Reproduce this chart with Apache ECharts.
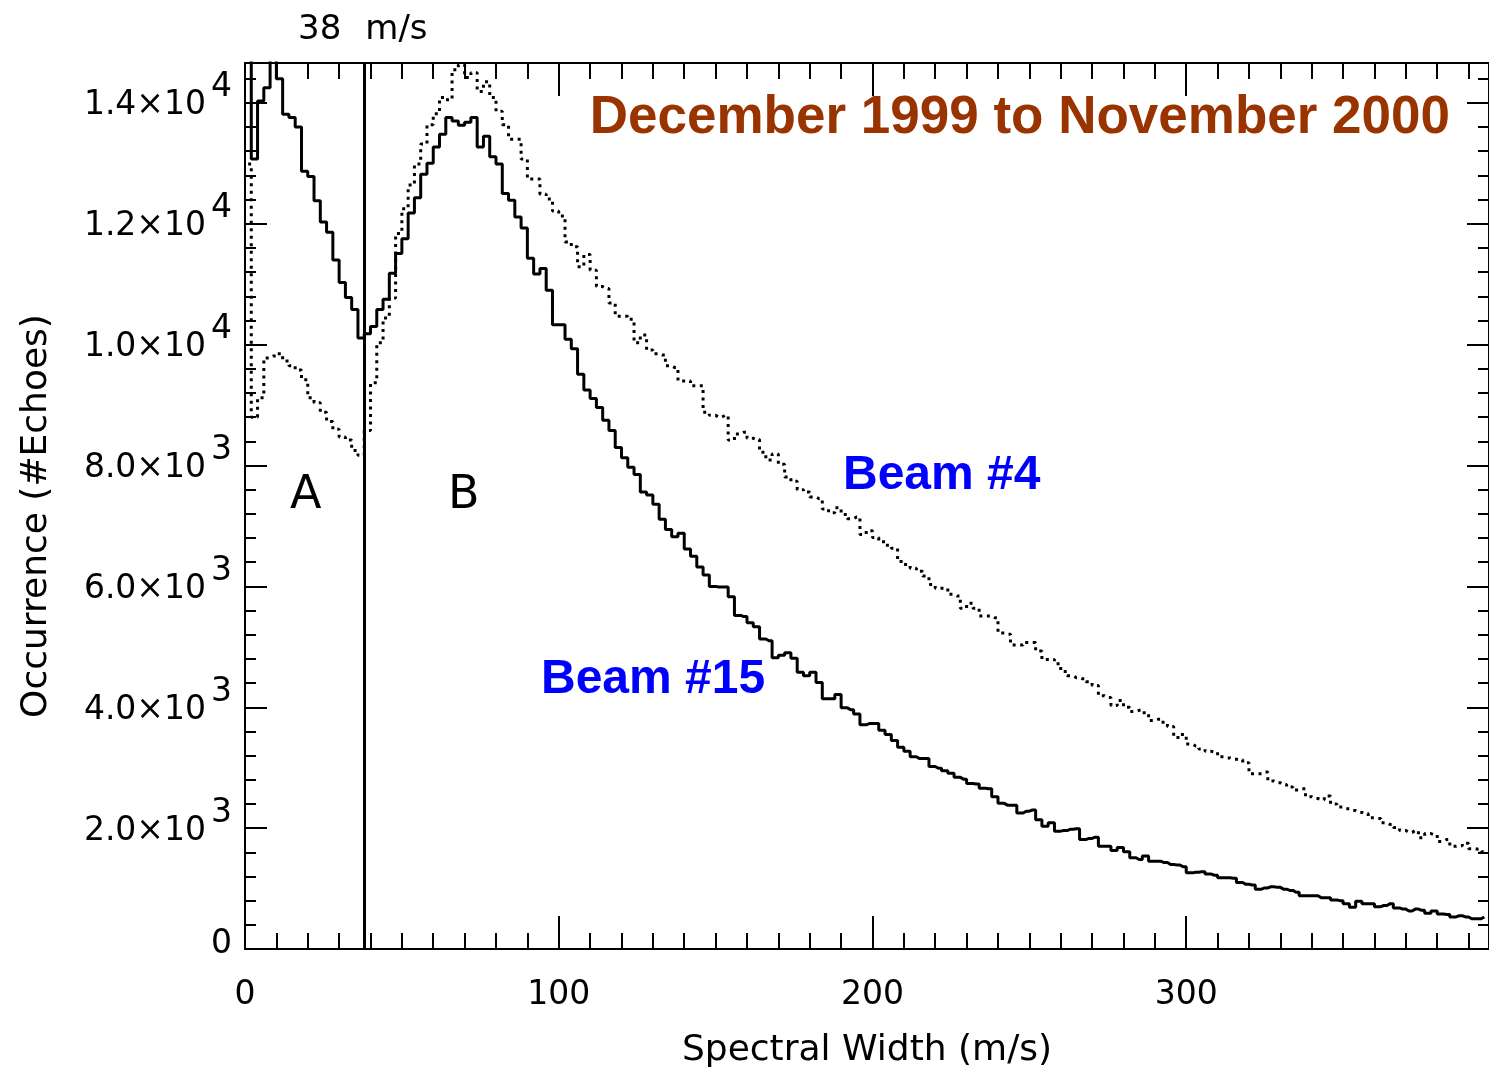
<!DOCTYPE html>
<html>
<head>
<meta charset="utf-8">
<title>Spectral width occurrence</title>
<script src="https://cdn.jsdelivr.net/npm/echarts@6/dist/echarts.min.js"></script>
<style>
  html, body { margin: 0; padding: 0; background: #ffffff; }
  #chart { width: 1489px; height: 1074px; }
</style>
</head>
<body>
<div id="chart"></div>
<script>
// Histogram bins are 2 m/s wide; values are echo counts per bin, starting at 0 m/s.
const BIN_WIDTH = 2;

// Beam #15 (solid)
const beam15 = [
  15500, 13070, 14030, 14250, 14900, 14400, 13810, 13760, 13600, 12870,
  12780, 12380, 12030, 11860, 11400, 11030, 10780, 10580, 10110, 10180,
  10300, 10580, 10750, 11180, 11510, 11750, 12180, 12430, 12820, 13000,
  13270, 13480, 13760, 13700, 13630, 13680, 13760, 13270, 13450, 13110,
  12990, 12500, 12390, 12110, 11930, 11430, 11170, 11260, 10900, 10330,
  10330, 10090, 9930, 9510, 9250, 9110, 8960, 8750, 8580, 8300,
  8130, 7970, 7850, 7560, 7510, 7360, 7110, 6940, 6820, 6880,
  6620, 6500, 6320, 6190, 6000, 5990, 5990, 5830, 5520, 5500,
  5400, 5330, 5130, 5100, 4820, 4860, 4900, 4810, 4580, 4520,
  4580, 4410, 4140, 4140, 4210, 3990, 3960, 3890, 3710, 3730,
  3730, 3620, 3550, 3450, 3340, 3270, 3180, 3150, 3150, 3020,
  2990, 2950, 2910, 2840, 2810, 2740, 2730, 2660, 2650, 2520,
  2410, 2380, 2380, 2250, 2280, 2300, 2140, 2030, 2090, 1950,
  1960, 1980, 1990, 1810, 1830, 1850, 1700, 1700, 1630, 1680,
  1610, 1510, 1480, 1540, 1450, 1450, 1430, 1400, 1390, 1360,
  1260, 1270, 1280, 1240, 1220, 1180, 1180, 1170, 1100, 1070,
  1060, 990, 1010, 1030, 1020, 990, 970, 940, 880, 880,
  880, 850, 850, 810, 800, 750, 690, 790, 750, 750,
  700, 720, 750, 680, 660, 630, 660, 640, 590, 630,
  580, 570, 530, 550, 530, 500, 500, 530
];

// Beam #4 (dotted)
const beam4 = [
  12990, 8800, 9120, 9780, 9810, 9850, 9730, 9650, 9580, 9420,
  9120, 9040, 8880, 8730, 8600, 8470, 8420, 8250, 8170, 8580,
  9370, 10030, 10440, 10770, 11840, 12250, 12640, 12990, 13320, 13640,
  13820, 14090, 14050, 14550, 14630, 14420, 14500, 14190, 14350, 14090,
  13860, 13640, 13400, 13400, 13070, 12740, 12740, 12490, 12410, 12210,
  12130, 11700, 11620, 11290, 11490, 11230, 10960, 10930, 10690, 10470,
  10470, 10420, 10030, 10160, 9910, 9850, 9830, 9650, 9620, 9400,
  9400, 9320, 9320, 8880, 8830, 8800, 8830, 8420, 8520, 8550,
  8450, 8430, 8220, 8090, 8190, 8020, 7810, 7740, 7600, 7560,
  7480, 7450, 7280, 7220, 7300, 7190, 7120, 7150, 6860, 6920,
  6810, 6740, 6680, 6630, 6410, 6360, 6300, 6250, 6170, 6030,
  5970, 5970, 5870, 5840, 5640, 5720, 5640, 5510, 5510, 5480,
  5230, 5210, 5030, 5030, 5070, 5070, 4930, 4790, 4790, 4720,
  4590, 4520, 4490, 4470, 4420, 4360, 4190, 4160, 4030, 4110,
  4000, 3930, 3950, 3910, 3780, 3800, 3750, 3680, 3500, 3550,
  3390, 3360, 3310, 3270, 3260, 3180, 3160, 3140, 3130, 3080,
  2900, 2900, 2930, 2780, 2750, 2720, 2680, 2630, 2650, 2520,
  2490, 2470, 2530, 2400, 2350, 2320, 2290, 2260, 2240, 2170,
  2160, 2090, 2060, 2010, 1960, 1930, 1960, 1840, 1910, 1890,
  1780, 1810, 1700, 1710, 1750, 1660, 1650, 1610
];

// Boundary between populations A and B
const thresholdSpeed = 38;

// Axis ranges and tick labels
const xMin = 0, xMax = 396.5, xMajor = 100, xMinorSplit = 10;
const yMin = 0, yMax = 14660, yMajor = 2000, yMinorSplit = 5;
const xTickValues = [0, 100, 200, 300];
const yTickValues = [0, 2000, 4000, 6000, 8000, 10000, 12000, 14000];
const yTickMantissa = ['0', '2.0', '4.0', '6.0', '8.0', '1.0', '1.2', '1.4'];
const yTickExponent = ['', '3', '3', '3', '3', '4', '4', '4'];

const FONT = 'DejaVu Sans';
const BOLD_FONT = 'Liberation Sans';

// Each bin value is plotted at its bin centre; step:'middle' puts the risers on the bin edges.
const toPoints = vals => vals.map((v, i) => [i * BIN_WIDTH + BIN_WIDTH / 2, v]);

const axisLine = { show: true, onZero: false, lineStyle: { color: '#000', width: 2 } };

function xAxisDef(position, withLabels) {
  return {
    type: 'value', position, min: xMin, max: xMax, interval: xMajor,
    axisLine,
    axisTick: { show: true, inside: true, length: 33, lineStyle: { color: '#000', width: 2 } },
    minorTick: { show: true, splitNumber: xMinorSplit, length: 16, lineStyle: { color: '#000', width: 2 } },
    splitLine: { show: false }, minorSplitLine: { show: false },
    axisLabel: {
      show: withLabels, margin: 30, color: '#000', fontFamily: FONT, fontSize: 33,
      showMaxLabel: false,
      formatter: v => (xTickValues.indexOf(v) >= 0 ? String(v) : '')
    },
    name: withLabels ? 'Spectral Width (m/s)' : '',
    nameLocation: 'middle', nameGap: 84,
    nameTextStyle: { color: '#000', fontFamily: FONT, fontSize: 36 }
  };
}

function yAxisDef(position, withLabels) {
  return {
    type: 'value', position, min: yMin, max: yMax, interval: yMajor,
    axisLine,
    axisTick: { show: true, inside: true, length: 22, lineStyle: { color: '#000', width: 2 } },
    minorTick: { show: true, splitNumber: yMinorSplit, length: 11, lineStyle: { color: '#000', width: 2 } },
    splitLine: { show: false }, minorSplitLine: { show: false },
    axisLabel: {
      show: withLabels, margin: 13, showMaxLabel: false,
      formatter: v => {
        const k = yTickValues.indexOf(v);
        if (k < 0) return '';
        if (!yTickExponent[k]) return '{z|' + yTickMantissa[k] + '}';
        return '{m|' + yTickMantissa[k] + '×10}{e|' + yTickExponent[k] + '}';
      },
      rich: {
        m: { color: '#000', fontFamily: FONT, fontSize: 33, lineHeight: 36, padding: [6, 0, 0, 0] },
        z: { color: '#000', fontFamily: FONT, fontSize: 33, lineHeight: 36, padding: [0, 0, 10, 0] },
        e: { color: '#000', fontFamily: FONT, fontSize: 33, lineHeight: 36, padding: [0, 0, 30, 5] }
      }
    },
    name: ''
  };
}

const chart = echarts.init(document.getElementById('chart'), null, { renderer: 'canvas' });

chart.setOption({
  animation: false,
  backgroundColor: '#ffffff',
  grid: { left: 245, top: 63, width: 1248, height: 892, containLabel: false },
  xAxis: [xAxisDef('bottom', true), xAxisDef('top', false)],
  yAxis: [yAxisDef('left', true), yAxisDef('right', false)],
  series: [
    {
      name: 'Beam #15', type: 'line', step: 'middle', showSymbol: false, clip: true,
      data: toPoints(beam15),
      lineStyle: { color: '#000', width: 3 },
      markLine: {
        silent: true, symbol: ['none', 'none'],
        lineStyle: { color: '#000', width: 3, type: 'solid' },
        label: { show: false },
        data: [{ xAxis: thresholdSpeed }]
      }
    },
    {
      name: 'Beam #4', type: 'line', step: 'middle', showSymbol: false, clip: true,
      data: toPoints(beam4),
      lineStyle: { color: '#000', width: 3, type: [3, 4.5], cap: 'butt' }
    }
  ],
  graphic: [
    { type: 'text', left: 298, top: 13,
      style: {
        text: '{a|' + thresholdSpeed + '}{b|m/s}',
        rich: {
          a: { fontFamily: FONT, fontSize: 34, fill: '#000' },
          b: { fontFamily: FONT, fontSize: 34, fill: '#000', padding: [0, 0, 0, 24] }
        }
      } },
    { type: 'text', x: 37, y: 516, rotation: Math.PI / 2,
      style: { text: 'Occurrence (#Echoes)', font: '36px "' + FONT + '"', fill: '#000',
               align: 'center', verticalAlign: 'middle' } },
    { type: 'text', left: 290, top: 473,
      style: { text: 'A', font: '46px "' + FONT + '"', fill: '#000' } },
    { type: 'text', left: 448, top: 473,
      style: { text: 'B', font: '46px "' + FONT + '"', fill: '#000' } },
    { type: 'text', right: 39, top: 92,
      style: { text: 'December 1999 to November 2000', font: 'bold 53px "' + BOLD_FONT + '"', fill: '#993300' } },
    { type: 'text', left: 843, top: 452,
      style: { text: 'Beam #4', font: 'bold 48px "' + BOLD_FONT + '"', fill: '#0000ff' } },
    { type: 'text', left: 541, top: 656,
      style: { text: 'Beam #15', font: 'bold 48px "' + BOLD_FONT + '"', fill: '#0000ff' } }
  ]
});
</script>
</body>
</html>
